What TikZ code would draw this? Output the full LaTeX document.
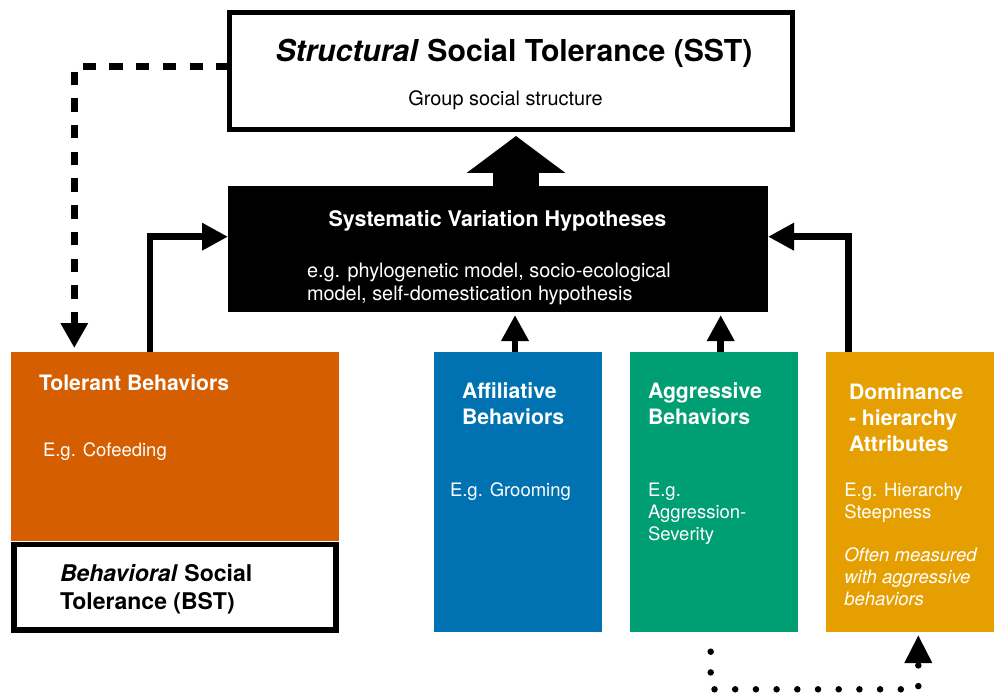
\documentclass[tikz,border=0pt]{standalone}
\usepackage{fontspec}
\setmainfont{TeX Gyre Heros}
\usetikzlibrary{arrows.meta,calc}
\definecolor{cOrange}{HTML}{D55E00}
\definecolor{cBlue}{HTML}{0072B2}
\definecolor{cGreen}{HTML}{009E73}
\definecolor{cYellow}{HTML}{E69F00}
\tikzset{
  panel/.style={inner sep=0pt, outer sep=0pt, minimum width=168pt, minimum height=280pt},
  conn/.style={line width=6.5pt, -{Triangle[width=26pt,length=26pt]}},
  dashconn/.style={line width=6.5pt, dash pattern=on 13.3pt off 13.4pt, -{Triangle[width=26pt,length=25pt]}},
  dotconn/.style={line width=6.5pt, line cap=round, dash pattern=on 0pt off 20.7pt, -{Triangle[width=26pt,length=28pt]}},
  txt/.style={inner sep=0pt, outer sep=0pt},
  hd/.style={txt, text=white, font=\fontsize{21.2}{26}\selectfont\bfseries},
  bd/.style={txt, text=white, font=\fontsize{18.5}{22}\selectfont},
  bdi/.style={txt, text=white, font=\fontsize{18.5}{22}\selectfont\itshape},
}
\begin{document}
\begin{tikzpicture}[x=1pt,y=-1pt]
\useasboundingbox (0,0) rectangle (995,695);

% boxes
\node[inner sep=0pt, outer sep=0pt, draw, line width=5pt, minimum width=563pt, minimum height=117pt] (sst) at (511,71) {};
\node[inner sep=0pt, outer sep=0pt, fill=black, minimum width=540pt, minimum height=126pt] (svh) at (498,249) {};
\node[inner sep=0pt, outer sep=0pt, fill=cOrange, minimum width=328pt, minimum height=189pt] (tol) at (175,446.5) {};
\node[inner sep=0pt, outer sep=0pt, draw, line width=5.7pt, minimum width=322.2pt, minimum height=85.2pt] (bst) at (175,587.2) {};
\node[panel, fill=cBlue] (aff) at (518,492) {};
\node[panel, fill=cGreen] (agg) at (714,492) {};
\node[panel, fill=cYellow] (dom) at (910,492) {};

% texts
\node[txt, anchor=base, font=\fontsize{30.2}{36}\selectfont\bfseries] (ssttitle) at (514,61.5) {\textit{Structural} Social Tolerance (SST)};
\node[txt, anchor=base, font=\fontsize{19.9}{23}\selectfont] (sstsub) at (505.5,106) {Group social structure};

\node[txt, text=white, anchor=base, font=\fontsize{21.5}{26}\selectfont\bfseries] (svhtitle) at (497.5,226) {Systematic Variation Hypotheses};
\node[txt, text=white, anchor=base west, font=\fontsize{19.9}{23}\selectfont] (svhl1) at (307,277.5) {e.g. phylogenetic model, socio-ecological};
\node[txt, text=white, anchor=base west, font=\fontsize{19.9}{23}\selectfont] (svhl2) at (307,300.5) {model, self-domestication hypothesis};

\node[hd, anchor=base west] (toltitle) at (39,390) {Tolerant Behaviors};
\node[bd, anchor=base west] (toleg) at (43,456.7) {E.g. Cofeeding};

\node[txt, anchor=base west, font=\fontsize{23}{28}\selectfont\bfseries] (bstl1) at (60,581.7) {\textit{Behavioral} Social};
\node[txt, anchor=base west, font=\fontsize{23}{28}\selectfont\bfseries] (bstl2) at (60,609.3) {Tolerance (BST)};

\node[hd, anchor=base west] (affl1) at (462,398.3) {Affiliative};
\node[hd, anchor=base west] (affl2) at (462,424.3) {Behaviors};
\node[bd, anchor=base west] (affeg) at (450,496) {E.g. Grooming};

\node[hd, anchor=base west] (aggl1) at (648,398.3) {Aggressive};
\node[hd, anchor=base west] (aggl2) at (648,424.3) {Behaviors};
\node[bd, anchor=base west] (aggeg1) at (648,496) {E.g.};
\node[bd, anchor=base west] (aggeg2) at (648,518) {Aggression-};
\node[bd, anchor=base west] (aggeg3) at (648,540) {Severity};

\node[hd, anchor=base west] (doml1) at (849,399.3) {Dominance};
\node[hd, anchor=base west] (doml2) at (849,425.3) {- hierarchy};
\node[hd, anchor=base west] (doml3) at (849,451.3) {Attributes};
\node[bd, anchor=base west] (domeg1) at (844.3,496.7) {E.g. Hierarchy};
\node[bd, anchor=base west] (domeg2) at (844.3,518.7) {Steepness};
\node[bdi, anchor=base west] (domit1) at (844.3,561.7) {Often measured};
\node[bdi, anchor=base west] (domit2) at (844.3,583.7) {with aggressive};
\node[bdi, anchor=base west] (domit3) at (844.3,605.7) {behaviors};

% connectors
\draw[line width=46pt, -{Triangle[width=97pt,length=37pt]}] ([xshift=18pt]svh.north) -- ([xshift=5pt,yshift=-6.5pt]sst.south);
\draw[conn] ([xshift=-25pt]tol.north) |- ([yshift=12.3pt]svh.west);
\draw[conn] ([xshift=-61.7pt]dom.north) |- ([yshift=12.3pt]svh.east);
\draw[conn] ([xshift=-3pt]aff.north) -- ([xshift=-3pt,yshift=-3pt]aff.north |- svh.south);
\draw[conn] ([xshift=6.7pt]agg.north) -- ([xshift=6.7pt,yshift=-3pt]agg.north |- svh.south);
\draw[dashconn] ([yshift=4.3pt]sst.west) -| ([xshift=63.3pt,yshift=4pt]tol.north west);
\coordinate (dotcorner) at (710.7,689.3);
\draw[dotconn] ([xshift=-3.3pt,yshift=-19.7pt]agg.south) -- (dotcorner) -| ([xshift=8.3pt,yshift=-3pt]dom.south);
\end{tikzpicture}
\end{document}
